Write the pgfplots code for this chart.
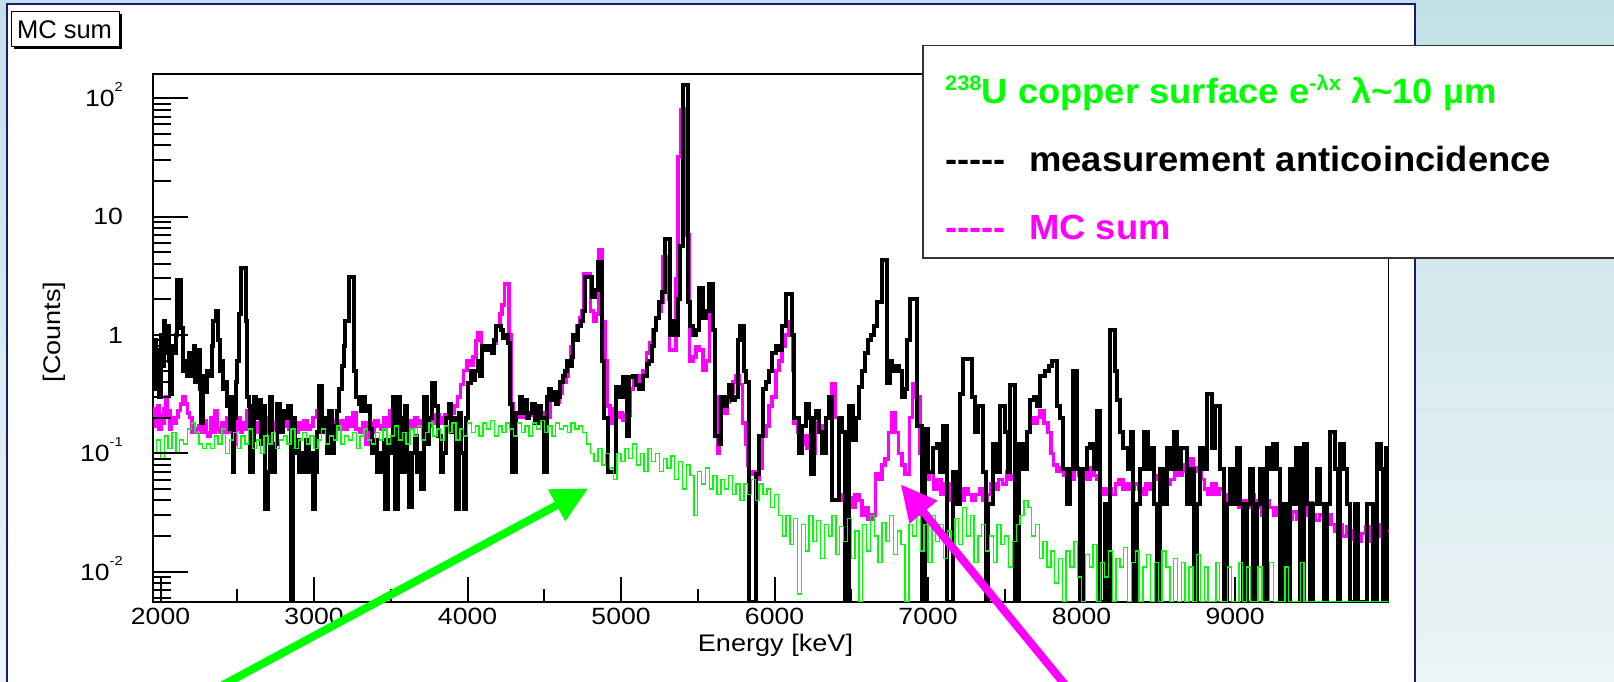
\documentclass[border=0pt]{standalone}
\usepackage{fontspec}
\setmainfont{Liberation Sans}
\newfontfamily\rootfont[FakeStretch=1.13]{Liberation Sans}
\newfontfamily\legfont[FakeStretch=1.04]{Liberation Sans}
\usepackage{pgfplots}
\pgfplotsset{compat=1.18}
\usetikzlibrary{arrows.meta}
\definecolor{rgreen}{RGB}{0,255,0}
\definecolor{rmag}{RGB}{255,0,255}
\definecolor{navy}{RGB}{25,25,120}
\definecolor{bgtop}{RGB}{194,225,229}
\definecolor{bgbot}{RGB}{236,244,246}
\newcommand{\rsup}[1]{\raisebox{15pt}{\fontsize{13}{13}\selectfont #1}}
\newcommand{\lsup}[1]{\raisebox{13pt}{\fontsize{21}{21}\selectfont #1}}
\begin{document}
\begin{tikzpicture}[x=1pt,y=1pt]
\useasboundingbox (0,0) rectangle (1614,682);
\shade[top color=bgtop, bottom color=bgbot] (0,0) rectangle (1614,682);
\fill[white] (7,0) rectangle (1415,678);
\draw[navy, line width=2pt] (7,-5) -- (7,678) -- (1415,678) -- (1415,-5);
% title box
\fill[black] (14.2,632.8) rectangle (121.5,667.8);
\filldraw[fill=white, draw=black, line width=1pt] (11.7,635.3) rectangle (119,670.3);
\node[font=\fontsize{25.5}{26}\selectfont] at (64.5,652.3) {MC sum};

\begin{axis}[
 at={(153pt,80pt)}, anchor=south west,
 scale only axis, width=1235.5pt, height=528pt,
 xmin=1951, xmax=10000, ymode=log, ymin=0.00555, ymax=160,
 scaled x ticks=false,
 axis line style={line width=1.5pt, black},
 tick align=inside, tick pos=left,
 xtick={2000,3000,4000,5000,6000,7000,8000,9000},
 xticklabels={2000,3000,4000,5000,6000,7000,8000,9000},
 minor xtick={2500,3500,4500,5500,6500,7500,8500,9500},
 ytick=\empty, minor ytick={},
 major tick length=25pt, minor tick length=13pt,
 every tick/.append style={line width=2pt, black},
 xticklabel style={font=\rootfont\fontsize{23.5}{28}\selectfont, inner sep=0pt, yshift=-6pt},
]
% MC sum (magenta)
\addplot[const plot mark left, rmag, line width=3.6pt] coordinates {
(1951,0.2)(1962,0.24)(1972,0.17)(1982,0.25)(1992,0.16)(2002,0.21)(2012,0.18)(2022,0.24)(2032,0.3)(2042,0.2)
(2052,0.23)(2062,0.16)(2072,0.2)(2085,0.18)(2100,0.2)(2115,0.23)(2130,0.26)(2145,0.3)(2160,0.26)(2175,0.22)
(2190,0.2)(2205,0.15)(2220,0.15)(2235,0.16)(2250,0.17)(2265,0.15)(2280,0.19)(2295,0.15)(2310,0.14)(2325,0.2)
(2340,0.15)(2355,0.23)(2370,0.16)(2385,0.15)(2400,0.18)(2415,0.15)(2430,0.2)(2445,0.15)(2460,0.17)(2475,0.12)
(2490,0.16)(2505,0.2)(2520,0.15)(2535,0.18)(2550,0.16)(2565,0.23)(2580,0.18)(2595,0.16)(2615,0.18)(2635,0.15)
(2655,0.17)(2675,0.15)(2695,0.2)(2715,0.16)(2735,0.18)(2755,0.16)(2775,0.19)(2795,0.17)(2815,0.2)(2835,0.16)
(2855,0.17)(2875,0.15)(2895,0.18)(2915,0.16)(2935,0.19)(2955,0.16)(2975,0.17)(2995,0.2)(3015,0.23)(3035,0.17)
(3055,0.16)(3075,0.2)(3095,0.17)(3115,0.19)(3135,0.16)(3155,0.17)(3175,0.19)(3195,0.16)(3215,0.2)(3235,0.17)
(3255,0.22)(3275,0.16)(3295,0.15)(3315,0.18)(3335,0.12)(3355,0.18)(3375,0.15)(3395,0.19)(3415,0.17)(3435,0.16)
(3455,0.2)(3475,0.17)(3495,0.23)(3515,0.16)(3535,0.19)(3555,0.17)(3575,0.2)(3595,0.16)(3615,0.19)(3635,0.17)
(3655,0.2)(3675,0.17)(3695,0.19)(3715,0.21)(3735,0.17)(3755,0.2)(3775,0.18)(3795,0.21)(3815,0.2)(3835,0.18)
(3855,0.21)(3875,0.2)(3895,0.22)(3915,0.25)(3935,0.3)(3955,0.38)(3975,0.5)(3995,0.6)(4015,0.55)(4035,0.65)
(4055,0.9)(4070,1.05)(4090,0.8)(4110,0.75)(4130,0.8)(4150,0.75)(4170,0.85)(4190,1.2)(4210,1.5)(4225,1.8)
(4240,2.7)(4272,1.0)(4282,0.26)(4300,0.22)(4320,0.2)(4340,0.23)(4360,0.2)(4380,0.22)(4400,0.21)(4420,0.24)
(4440,0.2)(4460,0.22)(4480,0.19)(4500,0.22)(4520,0.2)(4540,0.28)(4560,0.3)(4580,0.27)(4600,0.32)(4620,0.4)
(4640,0.45)(4655,0.55)(4670,0.8)(4690,1.0)(4710,1.2)(4730,1.4)(4745,1.6)(4757,3.3)(4800,1.6)(4820,1.3)
(4840,1.5)(4852,5.2)(4876,1.3)(4895,0.6)(4910,0.25)(4928,0.18)(4950,0.24)(4971,0.2)(4990,0.22)(5010,0.19)
(5030,0.21)(5058,0.35)(5080,0.42)(5100,0.38)(5125,0.45)(5145,0.5)(5166,0.7)(5185,0.85)(5205,1.1)(5225,1.4)
(5245,1.6)(5262,1.9)(5274,4.6)(5310,2.0)(5317,0.75)(5360,3.0)(5371,32)(5388,80)(5403,82)(5425,7)
(5447,0.6)(5468,0.65)(5490,0.8)(5512,0.75)(5533,0.5)(5555,0.6)(5576,2.7)(5600,1.1)(5615,0.3)(5630,0.1)
(5641,0.25)(5670,0.22)(5690,0.27)(5706,0.33)(5730,0.4)(5750,0.45)(5770,0.38)(5792,0.18)(5810,0.12)(5825,0.08)
(5836,0.067)(5860,0.07)(5880,0.06)(5900,0.075)(5922,0.14)(5945,0.17)(5965,0.25)(5985,0.3)(6009,0.5)(6030,0.6)
(6050,0.8)(6070,1.0)(6095,1.3)(6117,0.5)(6127,0.18)(6150,0.15)(6170,0.12)(6190,0.14)(6210,0.11)(6230,0.13)
(6250,0.1)(6268,0.18)(6290,0.15)(6310,0.17)(6335,0.2)(6354,0.3)(6375,0.39)(6398,0.2)(6419,0.04)(6440,0.045)
(6460,0.038)(6484,0.042)(6505,0.035)(6525,0.045)(6550,0.04)(6570,0.03)(6590,0.035)(6610,0.028)(6635,0.03)(6657,0.067)
(6680,0.06)(6700,0.08)(6720,0.09)(6743,0.15)(6765,0.22)(6787,0.15)(6808,0.1)(6830,0.08)(6851,0.067)(6880,0.2)
(6900,0.39)(6916,0.3)(6935,0.3)(6948,0.1)(6970,0.08)(6990,0.06)(7010,0.07)(7035,0.05)(7060,0.06)(7085,0.045)
(7110,0.055)(7135,0.04)(7160,0.05)(7185,0.045)(7210,0.04)(7235,0.05)(7260,0.045)(7285,0.04)(7310,0.045)(7335,0.05)
(7360,0.04)(7385,0.045)(7410,0.055)(7435,0.05)(7460,0.06)(7485,0.055)(7510,0.07)(7535,0.06)(7560,0.065)(7580,0.08)
(7600,0.1)(7620,0.12)(7643,0.15)(7665,0.2)(7690,0.18)(7710,0.2)(7730,0.23)(7755,0.18)(7780,0.15)(7800,0.1)
(7817,0.08)(7840,0.07)(7860,0.075)(7882,0.065)(7904,0.07)(7930,0.06)(7955,0.075)(7980,0.065)(8005,0.07)(8030,0.06)
(8055,0.075)(8080,0.065)(8100,0.06)(8121,0.05)(8145,0.045)(8170,0.05)(8195,0.045)(8220,0.055)(8245,0.06)(8270,0.05)
(8295,0.055)(8320,0.05)(8345,0.055)(8370,0.05)(8395,0.045)(8420,0.055)(8445,0.05)(8469,0.065)(8490,0.06)(8510,0.055)
(8535,0.065)(8555,0.055)(8580,0.06)(8605,0.07)(8630,0.065)(8655,0.08)(8680,0.07)(8705,0.09)(8730,0.075)(8755,0.07)
(8780,0.06)(8800,0.05)(8825,0.045)(8850,0.055)(8875,0.045)(8900,0.05)(8925,0.04)(8950,0.045)(8975,0.04)(9000,0.045)
(9025,0.035)(9050,0.04)(9075,0.035)(9100,0.045)(9125,0.035)(9150,0.04)(9175,0.03)(9200,0.04)(9225,0.035)(9250,0.03)
(9275,0.035)(9300,0.03)(9325,0.035)(9350,0.028)(9375,0.032)(9400,0.028)(9425,0.035)(9450,0.03)(9475,0.038)(9500,0.03)
(9525,0.027)(9550,0.03)(9575,0.026)(9600,0.03)(9625,0.025)(9650,0.022)(9675,0.025)(9700,0.02)(9725,0.024)(9750,0.019)
(9775,0.022)(9800,0.018)(9825,0.021)(9850,0.024)(9875,0.018)(9900,0.022)(9925,0.02)(9950,0.025)(9975,0.022)(10000,0.022)
};
% measurement anticoincidence (black)
\addplot[const plot mark left, black, line width=4pt] coordinates {
(1951,0.35)(1962,0.9)(1972,0.4)(1982,0.75)(1992,0.3)(2002,1.0)(2012,0.55)(2022,1.3)(2032,0.7)(2042,1.2)
(2052,0.6)(2062,0.32)(2072,0.8)(2085,0.7)(2100,1.0)(2108,2.9)(2135,1.15)(2145,0.5)(2160,0.6)(2172,0.45)
(2185,0.7)(2195,0.45)(2205,0.6)(2215,0.8)(2225,0.4)(2235,0.65)(2245,0.75)(2255,0.35)(2265,0.18)(2275,0.45)
(2290,0.33)(2305,0.5)(2320,0.45)(2335,0.8)(2345,1.3)(2360,1.6)(2375,0.9)(2385,0.5)(2400,0.6)(2410,0.35)
(2425,0.4)(2435,0.25)(2450,0.16)(2460,0.3)(2470,0.07)(2480,0.2)(2490,0.4)(2500,0.6)(2510,1.5)(2525,3.7)
(2555,1.3)(2565,0.3)(2575,0.25)(2585,0.07)(2600,0.13)(2610,0.3)(2625,0.2)(2640,0.28)(2655,0.12)(2670,0.25)
(2680,0.034)(2700,0.07)(2712,0.3)(2725,0.07)(2745,0.12)(2760,0.26)(2780,0.15)(2800,0.23)(2815,0.2)(2830,0.25)
(2848,0.0056)(2862,0.2)(2875,0.1)(2890,0.13)(2905,0.07)(2920,0.1)(2935,0.07)(2950,0.13)(2965,0.07)(2980,0.1)
(2992,0.034)(3005,0.07)(3020,0.15)(3035,0.37)(3055,0.15)(3070,0.2)(3085,0.1)(3100,0.23)(3115,0.1)(3130,0.17)
(3150,0.23)(3165,0.35)(3180,0.55)(3195,0.8)(3205,1.3)(3225,3.1)(3260,0.5)(3275,0.3)(3290,0.26)(3305,0.23)
(3320,0.3)(3335,0.23)(3350,0.25)(3365,0.16)(3380,0.1)(3395,0.13)(3410,0.07)(3425,0.1)(3440,0.07)(3455,0.13)
(3465,0.034)(3485,0.13)(3500,0.1)(3515,0.3)(3530,0.034)(3545,0.3)(3560,0.2)(3575,0.07)(3590,0.25)(3605,0.1)
(3620,0.035)(3640,0.1)(3655,0.14)(3670,0.07)(3685,0.1)(3700,0.05)(3715,0.3)(3735,0.12)(3750,0.2)(3770,0.39)
(3790,0.25)(3810,0.14)(3825,0.07)(3840,0.1)(3860,0.2)(3880,0.26)(3895,0.15)(3910,0.2)(3925,0.034)(3945,0.22)
(3960,0.1)(3975,0.034)(3990,0.2)(4005,0.39)(4020,0.5)(4035,0.42)(4050,0.5)(4065,0.6)(4080,0.45)(4095,0.8)
(4120,0.75)(4140,0.8)(4160,0.7)(4175,0.9)(4188,1.2)(4215,1.1)(4231,0.95)(4250,1.0)(4263,0.85)(4274,0.26)
(4290,0.07)(4317,0.22)(4339,0.3)(4355,0.22)(4370,0.28)(4385,0.2)(4400,0.22)(4420,0.26)(4440,0.18)(4460,0.25)
(4480,0.2)(4497,0.07)(4517,0.3)(4530,0.35)(4545,0.28)(4560,0.33)(4575,0.26)(4590,0.3)(4605,0.4)(4620,0.45)
(4635,0.5)(4650,0.6)(4665,0.55)(4680,0.65)(4690,1.0)(4705,0.9)(4720,1.2)(4740,1.3)(4755,1.6)(4767,3.1)
(4810,2.1)(4830,2.4)(4850,4.1)(4875,0.6)(4890,0.2)(4917,0.07)(4970,0.36)(4990,0.3)(5014,0.44)(5040,0.14)
(5055,0.44)(5080,0.45)(5100,0.38)(5120,0.35)(5140,0.45)(5166,0.57)(5185,0.6)(5200,0.8)(5212,1.1)(5230,1.4)
(5250,1.9)(5270,2.3)(5285,6.4)(5320,1.0)(5340,1.3)(5355,1.0)(5370,2.0)(5385,5.6)(5403,130)(5436,1.9)
(5450,1.2)(5468,1.0)(5490,1.1)(5511,2.5)(5535,1.4)(5555,1.6)(5576,2.7)(5600,1.1)(5612,0.14)(5640,0.12)
(5652,0.3)(5670,0.25)(5690,0.3)(5706,0.38)(5725,0.28)(5745,0.3)(5760,0.9)(5775,1.2)(5800,0.5)(5815,0.4)
(5836,0.0056)(5879,0.067)(5900,0.14)(5922,0.35)(5945,0.4)(5965,0.5)(5985,0.7)(6009,0.8)(6030,0.75)(6050,1.2)
(6073,2.2)(6117,1.0)(6130,0.2)(6160,0.1)(6181,0.17)(6205,0.26)(6225,0.2)(6240,0.067)(6255,0.2)(6270,0.23)
(6290,0.15)(6310,0.1)(6333,0.2)(6354,0.3)(6376,0.04)(6420,0.2)(6440,0.15)(6460,0.0056)(6485,0.25)(6510,0.13)
(6530,0.2)(6549,0.36)(6570,0.5)(6592,0.7)(6610,0.9)(6630,1.0)(6645,1.2)(6668,1.9)(6700,4.3)(6733,0.39)
(6750,0.6)(6765,0.5)(6790,0.55)(6808,0.5)(6830,0.3)(6850,0.35)(6860,0.9)(6884,2.0)(6930,0.17)(6959,0.0056)
(6981,0.16)(7000,0.07)(7030,0.11)(7057,0.12)(7080,0.07)(7100,0.17)(7122,0.0056)(7165,0.07)(7190,0.037)(7209,0.32)
(7231,0.63)(7285,0.3)(7305,0.15)(7328,0.25)(7361,0.07)(7375,0.0056)(7393,0.037)(7426,0.12)(7450,0.07)(7470,0.25)
(7500,0.15)(7520,0.07)(7535,0.38)(7567,0.0056)(7590,0.12)(7620,0.074)(7643,0.15)(7665,0.28)(7690,0.3)(7710,0.25)
(7730,0.45)(7760,0.5)(7790,0.55)(7810,0.6)(7839,0.25)(7862,0.2)(7882,0.074)(7905,0.037)(7925,0.074)(7947,0.5)
(7969,0.074)(7990,0.0056)(8010,0.074)(8034,0.11)(8056,0.12)(8080,0.074)(8099,0.23)(8121,0.0056)(8150,0.037)(8170,0.0056)
(8186,1.1)(8215,0.5)(8230,0.28)(8250,0.15)(8273,0.11)(8300,0.074)(8320,0.15)(8338,0.0056)(8360,0.037)(8382,0.074)
(8405,0.15)(8430,0.074)(8450,0.11)(8469,0.037)(8490,0.0056)(8510,0.074)(8530,0.037)(8555,0.11)(8580,0.074)(8600,0.15)
(8625,0.074)(8645,0.11)(8664,0.11)(8690,0.037)(8707,0.074)(8730,0.0056)(8750,0.037)(8773,0.11)(8800,0.074)(8816,0.32)
(8848,0.11)(8870,0.25)(8903,0.074)(8925,0.0056)(8945,0.037)(8965,0.074)(8990,0.037)(9010,0.11)(9030,0.037)(9055,0.0056)
(9075,0.037)(9095,0.074)(9120,0.0056)(9145,0.037)(9164,0.074)(9190,0.0056)(9207,0.11)(9230,0.074)(9250,0.12)(9272,0.074)
(9290,0.0056)(9310,0.037)(9337,0.0056)(9360,0.074)(9381,0.037)(9400,0.11)(9420,0.0056)(9446,0.12)(9467,0.037)(9490,0.0056)
(9510,0.037)(9535,0.074)(9555,0.037)(9580,0.0056)(9600,0.037)(9620,0.15)(9650,0.074)(9670,0.0056)(9685,0.12)(9710,0.074)
(9728,0.037)(9750,0.0056)(9780,0.037)(9800,0.0056)(9858,0.037)(9900,0.0056)(9923,0.12)(9950,0.074)(9966,0.0056)(9985,0.11)
(10000,0.11)
};
% 238U copper surface (green)
\addplot[const plot mark left, rgreen, line width=1.4pt] coordinates {
(1951,0.1)(1975,0.13)(2000,0.09)(2025,0.14)(2050,0.11)(2075,0.15)(2100,0.1)(2125,0.13)(2150,0.12)(2175,0.16)
(2200,0.18)(2225,0.15)(2250,0.12)(2275,0.11)(2300,0.12)(2325,0.11)(2350,0.14)(2375,0.12)(2400,0.16)(2425,0.1)
(2450,0.13)(2475,0.15)(2500,0.11)(2525,0.14)(2550,0.12)(2575,0.16)(2600,0.11)(2625,0.13)(2650,0.1)(2675,0.14)
(2700,0.12)(2725,0.15)(2750,0.11)(2775,0.13)(2800,0.14)(2825,0.12)(2850,0.16)(2875,0.11)(2900,0.13)(2925,0.15)
(2950,0.12)(2975,0.14)(3000,0.11)(3025,0.13)(3050,0.16)(3075,0.12)(3100,0.14)(3125,0.13)(3150,0.17)(3175,0.12)
(3200,0.14)(3225,0.13)(3250,0.15)(3275,0.11)(3300,0.14)(3325,0.16)(3350,0.13)(3375,0.12)(3400,0.15)(3425,0.13)
(3450,0.16)(3475,0.12)(3500,0.14)(3525,0.17)(3550,0.13)(3575,0.15)(3600,0.12)(3625,0.16)(3650,0.14)(3675,0.17)
(3700,0.13)(3725,0.15)(3750,0.18)(3775,0.14)(3800,0.16)(3825,0.13)(3850,0.17)(3875,0.15)(3900,0.18)(3925,0.13)
(3950,0.16)(3975,0.14)(4000,0.18)(4025,0.15)(4050,0.17)(4075,0.14)(4100,0.18)(4125,0.16)(4150,0.19)(4175,0.14)
(4200,0.17)(4225,0.15)(4250,0.18)(4275,0.16)(4300,0.14)(4325,0.18)(4350,0.15)(4375,0.17)(4400,0.14)(4425,0.18)
(4450,0.16)(4475,0.19)(4500,0.15)(4525,0.17)(4550,0.14)(4575,0.18)(4600,0.16)(4625,0.17)(4650,0.15)(4675,0.18)
(4700,0.16)(4725,0.17)(4750,0.15)(4775,0.12)(4800,0.1)(4825,0.085)(4850,0.11)(4875,0.08)(4900,0.1)(4925,0.075)
(4950,0.06)(4975,0.1)(5000,0.085)(5025,0.11)(5050,0.09)(5075,0.12)(5100,0.08)(5125,0.1)(5150,0.07)(5175,0.11)
(5200,0.085)(5225,0.1)(5250,0.07)(5275,0.09)(5300,0.075)(5325,0.095)(5350,0.06)(5375,0.085)(5400,0.05)(5425,0.08)
(5450,0.065)(5475,0.03)(5500,0.07)(5525,0.055)(5550,0.075)(5575,0.05)(5600,0.065)(5625,0.045)(5650,0.06)(5675,0.05)
(5700,0.065)(5725,0.045)(5750,0.055)(5775,0.04)(5800,0.055)(5825,0.045)(5850,0.06)(5875,0.04)(5900,0.055)(5925,0.045)
(5950,0.05)(5975,0.035)(6000,0.045)(6025,0.03)(6050,0.02)(6075,0.03)(6100,0.017)(6125,0.028)(6150,0.0065)(6175,0.025)
(6200,0.015)(6225,0.03)(6250,0.018)(6275,0.027)(6300,0.013)(6325,0.025)(6350,0.02)(6375,0.03)(6400,0.014)(6425,0.024)
(6450,0.018)(6475,0.028)(6500,0.013)(6525,0.022)(6550,0.0056)(6575,0.025)(6600,0.015)(6625,0.03)(6650,0.02)(6675,0.012)
(6700,0.026)(6725,0.018)(6750,0.03)(6775,0.014)(6800,0.022)(6825,0.017)(6850,0.0056)(6875,0.025)(6900,0.02)(6925,0.03)
(6950,0.015)(6975,0.025)(7000,0.012)(7025,0.03)(7050,0.018)(7075,0.025)(7100,0.013)(7125,0.022)(7150,0.015)(7175,0.028)
(7200,0.017)(7225,0.035)(7250,0.02)(7275,0.03)(7300,0.012)(7325,0.02)(7350,0.025)(7375,0.015)(7400,0.02)(7425,0.012)
(7450,0.025)(7475,0.017)(7500,0.02)(7525,0.011)(7550,0.018)(7575,0.025)(7600,0.03)(7625,0.04)(7650,0.035)(7675,0.02)
(7700,0.025)(7725,0.013)(7750,0.018)(7775,0.011)(7800,0.015)(7825,0.008)(7850,0.013)(7875,0.0056)(7900,0.015)(7925,0.011)
(7950,0.018)(7975,0.009)(8000,0.0056)(8025,0.014)(8050,0.011)(8075,0.017)(8100,0.0056)(8125,0.012)(8150,0.009)(8175,0.015)
(8200,0.0056)(8225,0.013)(8250,0.011)(8275,0.016)(8300,0.0056)(8325,0.012)(8350,0.015)(8375,0.0056)(8400,0.011)(8425,0.014)
(8450,0.0056)(8475,0.012)(8500,0.0056)(8525,0.015)(8550,0.011)(8575,0.0056)(8600,0.013)(8625,0.0056)(8650,0.012)(8675,0.0056)
(8700,0.011)(8725,0.0056)(8750,0.014)(8775,0.0056)(8800,0.011)(8825,0.0056)(8875,0.012)(8900,0.0056)(8950,0.011)(8975,0.0056)
(9025,0.012)(9050,0.0056)(9075,0.011)(9100,0.0056)(9150,0.011)(9175,0.0056)(9225,0.012)(9250,0.0056)(9325,0.011)(9350,0.0056)
(9425,0.012)(9450,0.0056)(10000,0.0056)
};
\end{axis}

\begin{axis}[
 at={(153pt,80pt)}, anchor=south west,
 scale only axis, width=1235.5pt, height=528pt,
 xmin=1951, xmax=10000, ymode=log, ymin=0.00555, ymax=160,
 axis line style={draw=none},
 tick align=inside, tick pos=left,
 xtick=\empty, minor xtick={},
 ytick={0.01,0.1,1,10,100},
 yticklabels={10\rsup{-2},10\rsup{-1},1,10\hspace{13pt},10\rsup{2}\hspace{7pt}},
 minor ytick={0.006,0.007,0.008,0.009,0.02,0.03,0.04,0.05,0.06,0.07,0.08,0.09,0.2,0.3,0.4,0.5,0.6,0.7,0.8,0.9,2,3,4,5,6,7,8,9,20,30,40,50,60,70,80,90},
 major tick length=35pt, minor tick length=18pt,
 every tick/.append style={line width=2pt, black},
 yticklabel style={font=\rootfont\fontsize{23.5}{28}\selectfont, inner sep=0pt, anchor=base east, xshift=-30pt, yshift=-8.4pt},
]
\end{axis}

\node[font=\rootfont\fontsize{24}{24}\selectfont, anchor=base] at (775.5,30.3) {Energy [keV]};
\node[font=\rootfont\fontsize{24}{24}\selectfont, rotate=90] at (54,350) {[Counts]};

% legend box
\filldraw[fill=white, draw=black!80, line width=1.5pt] (923,424) rectangle (1630,636.3);
\node[anchor=base west, inner sep=0pt, font=\legfont\bfseries\fontsize{35}{35}\selectfont, text=rgreen] at (945,578) {\lsup{238}U copper surface e\lsup{-λx} λ\textasciitilde 10 µm};
\node[anchor=base west, inner sep=0pt, font=\legfont\bfseries\fontsize{35}{35}\selectfont, text=black] at (945,510.3) {-{}-{}-{}-{}-};
\node[anchor=base west, inner sep=0pt, font=\legfont\bfseries\fontsize{35}{35}\selectfont, text=black] at (1029,510.3) {measurement anticoincidence};
\node[anchor=base west, inner sep=0pt, font=\legfont\bfseries\fontsize{35}{35}\selectfont, text=rmag] at (945,442) {-{}-{}-{}-{}-};
\node[anchor=base west, inner sep=0pt, font=\legfont\bfseries\fontsize{35}{35}\selectfont, text=rmag] at (1029,442) {MC sum};

% arrows
\draw[rgreen, line width=8pt, -{Triangle[length=36pt,width=34pt]}] (210,-10) -- (588.3,193.7);
\draw[rmag, line width=8pt, -{Triangle[length=36pt,width=34pt]}] (1071,-10) -- (900.7,197.7);
\end{tikzpicture}
\end{document}
